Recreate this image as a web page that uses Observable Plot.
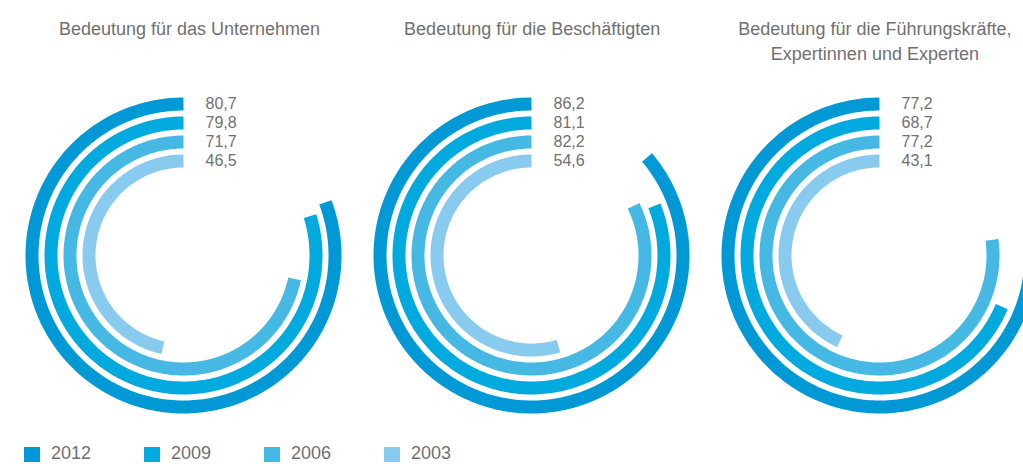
<!DOCTYPE html>
<html>
<head>
<meta charset="utf-8">
<script src="https://cdn.jsdelivr.net/npm/d3@7"></script>
<script src="https://cdn.jsdelivr.net/npm/@observablehq/plot@0.6"></script>
<style>
  html, body { margin: 0; padding: 0; background: #fff; }
  body { width: 1023px; height: 464px; overflow: hidden; font-family: "Liberation Sans", Arial, sans-serif; }
  #legend { position: relative; height: 24px; width: 1023px; }
  .sw { position: absolute; top: 7px; width: 16px; height: 15px; }
  .lt { position: absolute; top: 3px; font-size: 18px; line-height: 20px; color: #707070; }
  svg text { font-family: "Liberation Sans", Arial, sans-serif; }
</style>
</head>
<body>
<div id="chart"></div>
<div id="legend"></div>
<script>
// ---- data ----
const charts = [
  "Bedeutung für das Unternehmen",
  "Bedeutung für die Beschäftigten",
  "Bedeutung für die Führungskräfte,\nExpertinnen und Experten"
];
const years = ["2012", "2009", "2006", "2003"];
const v2012 = [80.7, 86.2, 77.2];
const v2009 = [79.8, 81.1, 68.7];
const v2006 = [71.7, 82.2, 77.2];
const v2003 = [46.5, 54.6, 43.1];
const colors = ["#0099d5", "#00aade", "#45b9e4", "#88cbee"];

// ---- layout ----
const W = 1023, H = 440;
const step = 348;          // px between chart centres
const x0 = 183, cy = 255;  // first centre (px)
const titleX0 = 189, titleStep = 342.7;
const ringR = j => (151.5 - 19 * j) / step;

const seriesVals = [v2012, v2009, v2006, v2003];
const rows = [];
charts.forEach((c, i) => years.forEach((y, j) => rows.push({chart: i, ring: j, year: y, value: seriesVals[j][i]})));

// arc sample points (geometric construction of each bar)
const pts = [];
rows.forEach(r => {
  const end = r.value / 100 * 2 * Math.PI;
  const n = Math.max(2, Math.ceil(r.value * 3));
  const rad = ringR(r.ring);
  for (let k = 0; k <= n; k++) {
    const t = end * k / n;
    pts.push({key: r.chart + "-" + r.ring, year: r.year, x: r.chart - rad * Math.sin(t), y: rad * Math.cos(t)});
  }
});

const plot = Plot.plot({
  width: W, height: H,
  margin: 0,
  x: {domain: [-x0 / step, (W - x0) / step], axis: null},
  y: {domain: [-(H - cy) / step, cy / step], axis: null},
  color: {domain: years, range: colors},
  style: {fontFamily: "'Liberation Sans', Arial, sans-serif"},
  marks: [
    Plot.line(pts, {x: "x", y: "y", z: "key", stroke: "year", strokeWidth: 13, strokeLinecap: "butt", curve: "linear", clip: true}),
    Plot.text(rows, {
      x: d => d.chart + 22 / step, y: d => ringR(d.ring),
      text: d => d.value.toFixed(1).replace(".", ","),
      textAnchor: "start", lineAnchor: "middle", fontSize: 16, fill: "#707070"
    }),
    Plot.text(charts, {
      x: (d, i) => (titleX0 - x0 + i * titleStep) / step, y: () => (cy - 16.2) / step,
      text: d => d, textAnchor: "middle", lineAnchor: "top",
      fontSize: 18, lineHeight: 1.405, fill: "#707070"
    })
  ]
});
document.getElementById("chart").appendChild(plot);

const lg = document.getElementById("legend");
years.forEach((y, j) => {
  const s = document.createElement("div");
  s.className = "sw"; s.style.left = (24 + 120 * j) + "px"; s.style.background = colors[j];
  const t = document.createElement("div");
  t.className = "lt"; t.style.left = (51 + 120 * j) + "px"; t.textContent = y;
  lg.appendChild(s); lg.appendChild(t);
});
</script>
</body>
</html>
